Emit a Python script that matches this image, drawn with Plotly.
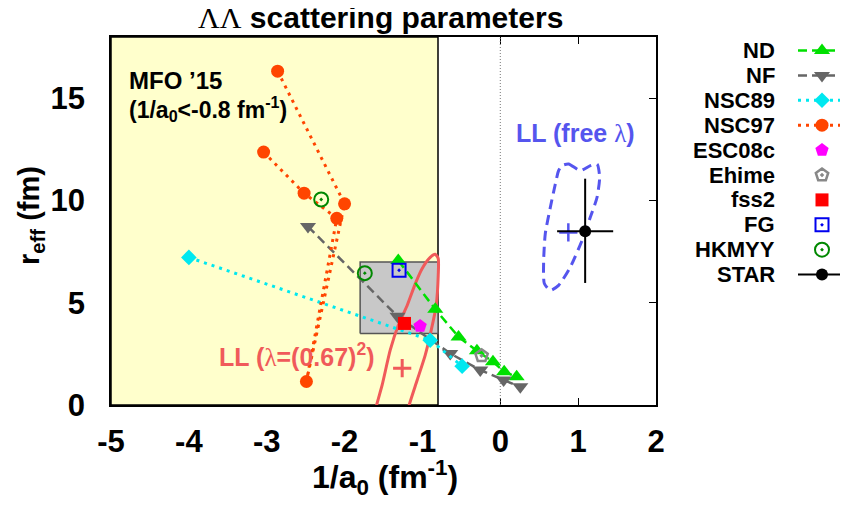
import plotly.graph_objects as go

# the page body adds an 8px margin; size the figure so it fills the 848x512 window
OFF = 8
W, H = 848 - OFF, 512 - OFF
FONT = "Liberation Sans"
SERIF = "Liberation Serif"

# ---------------- data ----------------
X_RANGE = [-5, 2]
Y_RANGE = [0, 18]
X_TICKS = [-5, -4, -3, -2, -1, 0, 1, 2]
Y_TICKS = [0, 5, 10, 15]

MFO_BOUND = -0.8                 # 1/a0 < -0.8 fm^-1 region
GRAY_X = [-1.8, -0.8]            # shaded box
GRAY_Y = [3.5, 7.0]

ND_x = [-1.31, -0.835, -0.536, -0.30, -0.094, 0.05, 0.21]
ND_y = [7.07, 4.68, 3.33, 2.65, 2.11, 1.63, 1.38]

NF_x = [-2.47, -1.32, -0.643, -0.257, 0.043, 0.257]
NF_y = [8.73, 4.34, 2.52, 1.71, 1.22, 0.89]

NSC89_x = [-4.0, -0.90, -0.49]
NSC89_y = [7.22, 3.17, 1.90]

NSC97_x = [-3.04, -2.52, -2.10, -2.49, -2.00, -2.86]
NSC97_y = [12.37, 10.36, 9.13, 1.15, 9.84, 16.33]

ESC08c_x = [-1.03]
ESC08c_y = [3.86]
Ehime_x = [-0.24]
Ehime_y = [2.41]
fss2_x = [-1.23]
fss2_y = [3.99]
FG_x = [-1.30]
FG_y = [6.59]
HKMYY_x = [-2.30, -1.74]
HKMYY_y = [10.05, 6.45]

STAR_x = [1.09]
STAR_y = [8.50]
STAR_xerr = [0.36]
STAR_yerr_plus = [2.57]
STAR_yerr_minus = [2.53]

# Lednicky-Lyuboshitz contours
LL_fix_x = [-1.62, -1.588, -1.517, -1.414, -1.31, -1.195, -1.09, -1.003, -0.90, -0.836,
            -0.797, -0.797, -0.823, -0.887, -0.964, -1.067, -1.17, -1.21]
LL_fix_y = [-0.6, 0.0, 0.98, 2.68, 3.9, 4.88, 5.95, 6.68, 7.22, 7.37,
            7.17, 6.34, 4.88, 3.66, 2.44, 1.22, 0.0, -0.6]
LL_fix_best_x = [-1.26]
LL_fix_best_y = [1.80]

LL_free_x = [0.793, 0.878, 1.028, 1.157, 1.243, 1.276, 1.243, 1.157, 1.050, 0.900,
             0.749, 0.643, 0.566, 0.557, 0.578, 0.643, 0.707, 0.749, 0.793]
LL_free_y = [11.71, 11.79, 11.46, 11.71, 11.79, 11.14, 10.16, 9.19, 8.05, 6.75,
             5.85, 5.61, 5.94, 7.07, 8.38, 9.67, 10.81, 11.46, 11.71]
LL_free_best_x = [0.874]
LL_free_best_y = [8.44]

LEGEND_NAMES = ["ND", "NF", "NSC89", "NSC97", "ESC08c", "Ehime", "fss2", "FG", "HKMYY", "STAR"]

# ---------------- styles ----------------
C_ND = "#00e000"
C_NF = "#666666"
C_NSC89 = "#00e8f0"
C_NSC97 = "#ff4500"
C_ESC = "#ff00ff"
C_EHIME = "#888888"
C_FSS2 = "#ff0000"
C_FG = "#0000ee"
C_HKMYY = "#008800"
C_RED = "#f05a5a"
C_BLUE = "#5555ee"

LINES = {
    "ND": dict(color=C_ND, width=2.5, dash="9px,5px"),
    "NF": dict(color=C_NF, width=2.5, dash="9px,5px"),
    "NSC89": dict(color=C_NSC89, width=3, dash="3px,5px"),
    "NSC97": dict(color=C_NSC97, width=3, dash="3px,5px"),
    "STAR": dict(color="black", width=2),
}
MARKERS = {
    "ND": dict(symbol="triangle-up", size=14, color=C_ND),
    "NF": dict(symbol="triangle-down", size=14, color=C_NF),
    "NSC89": dict(symbol="diamond", size=12, color=C_NSC89),
    "NSC97": dict(symbol="circle", size=13, color=C_NSC97),
    "ESC08c": dict(symbol="pentagon", size=14, color=C_ESC),
    "Ehime": dict(symbol="pentagon-open-dot", size=13, color=C_EHIME, line=dict(color=C_EHIME, width=2.5)),
    "fss2": dict(symbol="square", size=13, color=C_FSS2),
    "FG": dict(symbol="square-open-dot", size=13, color=C_FG, line=dict(color=C_FG, width=2)),
    "HKMYY": dict(symbol="circle-open-dot", size=14, color=C_HKMYY, line=dict(color=C_HKMYY, width=2)),
    "STAR": dict(symbol="circle", size=12, color="black"),
}

SERIES = {
    "ND": (ND_x, ND_y), "NF": (NF_x, NF_y), "NSC89": (NSC89_x, NSC89_y),
    "NSC97": (NSC97_x, NSC97_y), "ESC08c": (ESC08c_x, ESC08c_y),
    "Ehime": (Ehime_x, Ehime_y), "fss2": (fss2_x, fss2_y), "FG": (FG_x, FG_y),
    "HKMYY": (HKMYY_x, HKMYY_y),
}


def px(x):
    """window pixel -> paper x"""
    return (x - OFF) / W


def py(y):
    """window pixel -> paper y"""
    return 1 - (y - OFF) / H


# plot area in window pixels
PL, PR, PT, PB = 111, 656, 37, 405

fig = go.Figure()

# MFO region (yellow)
fig.add_trace(go.Scatter(
    x=[X_RANGE[0], MFO_BOUND, MFO_BOUND, X_RANGE[0], X_RANGE[0]],
    y=[Y_RANGE[0], Y_RANGE[0], Y_RANGE[1], Y_RANGE[1], Y_RANGE[0]],
    fill="toself", fillcolor="#ffffcc", mode="lines",
    line=dict(color="black", width=1.5), hoverinfo="skip", showlegend=False))

# zero axis (dotted)
fig.add_trace(go.Scatter(x=[0, 0], y=Y_RANGE, mode="lines",
                         line=dict(color="#777777", width=1, dash="1px,2px"),
                         hoverinfo="skip", showlegend=False))

# gray box
fig.add_trace(go.Scatter(
    x=[GRAY_X[0], GRAY_X[1], GRAY_X[1], GRAY_X[0], GRAY_X[0]],
    y=[GRAY_Y[0], GRAY_Y[0], GRAY_Y[1], GRAY_Y[1], GRAY_Y[0]],
    fill="toself", fillcolor="#c8c8c8", mode="lines",
    line=dict(color="#555555", width=1.5), hoverinfo="skip", showlegend=False))

# LL contours
fig.add_trace(go.Scatter(x=LL_fix_x, y=LL_fix_y, mode="lines",
                         line=dict(color=C_RED, width=3, shape="spline", smoothing=0.6),
                         hoverinfo="skip", showlegend=False))
fig.add_trace(go.Scatter(x=LL_free_x, y=LL_free_y, mode="lines",
                         line=dict(color=C_BLUE, width=3, dash="10px,6px", shape="spline", smoothing=0.6),
                         hoverinfo="skip", showlegend=False))
fig.add_trace(go.Scatter(x=LL_fix_best_x, y=LL_fix_best_y, mode="markers",
                         marker=dict(symbol="cross-thin", size=13, line=dict(color=C_RED, width=3)),
                         hoverinfo="skip", showlegend=False))
fig.add_trace(go.Scatter(x=LL_free_best_x, y=LL_free_best_y, mode="markers",
                         marker=dict(symbol="cross-thin", size=13, line=dict(color=C_BLUE, width=2.5)),
                         hoverinfo="skip", showlegend=False))

# model points
for name, (xs, ys) in SERIES.items():
    if name in LINES:
        fig.add_trace(go.Scatter(x=xs, y=ys, name=name, mode="lines+markers",
                                 line=LINES[name], marker=MARKERS[name], showlegend=False))
    else:
        fig.add_trace(go.Scatter(x=xs, y=ys, name=name, mode="markers",
                                 marker=MARKERS[name], showlegend=False))

# STAR with error bars
fig.add_trace(go.Scatter(
    x=STAR_x, y=STAR_y, mode="markers", name="STAR", showlegend=False,
    marker=MARKERS["STAR"],
    error_x=dict(type="data", array=STAR_xerr, color="black", thickness=2, width=0),
    error_y=dict(type="data", array=STAR_yerr_plus, arrayminus=STAR_yerr_minus,
                 color="black", thickness=2, width=0)))

# ---------------- manual legend (keys to the right of the labels) ----------------
LEG_TOP, LEG_STEP = 50.5, 24.9
n = len(LEGEND_NAMES)
leg_top_px = LEG_TOP - LEG_STEP / 2
leg_bot_px = LEG_TOP + LEG_STEP * (n - 1) + LEG_STEP / 2
for i, name in enumerate(LEGEND_NAMES):
    if name in LINES:
        fig.add_trace(go.Scatter(x=[0, 1.05], y=[i, i], xaxis="x2", yaxis="y2", mode="lines",
                                 line=LINES[name], hoverinfo="skip", showlegend=False))
    fig.add_trace(go.Scatter(x=[0.48], y=[i], xaxis="x2", yaxis="y2", mode="markers",
                             marker=MARKERS[name], hoverinfo="skip", showlegend=False))

annotations = []
for i, name in enumerate(LEGEND_NAMES):
    annotations.append(dict(text="<b>%s</b>" % name, xref="paper", yref="y2",
                            x=px(776), y=i, xanchor="right", yanchor="middle",
                            showarrow=False, borderpad=0,
                            font=dict(family=FONT, size=22, color="black")))

# ---------------- texts ----------------
annotations += [
    dict(text='<span style="font-family:%s;font-weight:normal">ΛΛ</span><b> scattering parameters</b>' % SERIF,
         xref="paper", yref="paper", x=px((PL + PR) / 2 - 3), y=py(17),
         xanchor="center", yanchor="middle", showarrow=False, borderpad=0,
         font=dict(family=FONT, size=30, color="black")),
    dict(text="<b>1/a<sub>0</sub> (fm<sup>-1</sup>)</b>", xref="paper", yref="paper",
         x=px(385), y=py(477), xanchor="center", yanchor="middle", showarrow=False,
         font=dict(family=FONT, size=32, color="black")),
    dict(text="<b>r<sub>eff</sub> (fm)</b>", xref="paper", yref="paper",
         x=px(31), y=py(216), xanchor="center", yanchor="middle", showarrow=False,
         textangle=-90, font=dict(family=FONT, size=29, color="black")),
    dict(text="<b>MFO ’15</b>", xref="x", yref="y", x=-4.79, y=15.85,
         xanchor="left", yanchor="middle", showarrow=False,
         font=dict(family=FONT, size=24, color="black")),
    dict(text="<b>(1/a<sub>0</sub>&lt;-0.8 fm<sup>-1</sup>)</b>", xref="x", yref="y", x=-4.80, y=14.5,
         xanchor="left", yanchor="middle", showarrow=False,
         font=dict(family=FONT, size=23, color="black")),
    dict(text='<b>LL (free </b><span style="font-family:%s;font-weight:normal">λ</span><b>)</b>' % SERIF,
         xref="x", yref="y", x=0.17, y=13.3, xanchor="left", yanchor="middle", showarrow=False,
         font=dict(family=FONT, size=25, color=C_BLUE)),
    dict(text='<b>LL (</b><span style="font-family:%s;font-weight:normal">λ</span><b>=(0.67)<sup>2</sup>)</b>' % SERIF,
         xref="x", yref="y", x=-3.64, y=2.45, xanchor="left", yanchor="middle", showarrow=False,
         font=dict(family=FONT, size=25, color=C_RED)),
]

tickfont = dict(family=FONT, size=31, color="black", weight="bold")
fig.update_layout(
    width=W, height=H,
    margin=dict(l=0, r=0, t=0, b=0, pad=0, autoexpand=False),
    paper_bgcolor="white", plot_bgcolor="white",
    showlegend=False,
    annotations=annotations,
    xaxis=dict(domain=[px(PL), px(PR)], range=X_RANGE, tickvals=X_TICKS,
               ticktext=["-5", "-4", "-3", "-2", "-1", "0", "1", "2"],
               ticks="inside", ticklen=7, tickwidth=1, tickcolor="black",
               showline=True, linecolor="black", linewidth=1.5, mirror="ticks",
               showgrid=False, zeroline=False, tickfont=tickfont, automargin=False,
               ticklabelstandoff=8, layer="below traces", fixedrange=True),
    yaxis=dict(domain=[py(PB), py(PT)], range=Y_RANGE, tickvals=Y_TICKS,
               ticks="inside", ticklen=7, tickwidth=1, tickcolor="black",
               showline=True, linecolor="black", linewidth=1.5, mirror="ticks",
               showgrid=False, zeroline=False, tickfont=tickfont, automargin=False,
               ticklabelstandoff=18, layer="below traces", fixedrange=True),
    xaxis2=dict(domain=[px(798), 1.0], range=[0, 1], visible=False, anchor="y2",
                fixedrange=True, automargin=False),
    yaxis2=dict(domain=[py(leg_bot_px), py(leg_top_px)], range=[n - 0.5, -0.5],
                visible=False, anchor="x2", fixedrange=True, automargin=False),
)

fig.write_html("out.html")
